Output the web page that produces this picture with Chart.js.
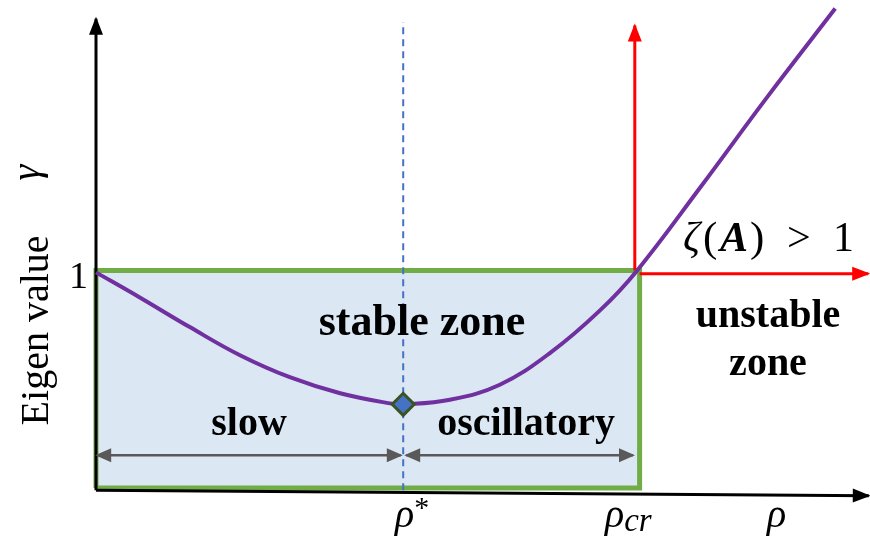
<!DOCTYPE html>
<html><head><meta charset="utf-8">
<script src="https://cdn.jsdelivr.net/npm/chart.js@4"></script>
<style>html,body{margin:0;padding:0;background:#fff}#wrap{width:870px;height:543px}</style>
</head><body><div id="wrap"><canvas id="c" width="870" height="543"></canvas></div>
<script>
// ---- data (ρ, γ in arbitrary units) ----
const rho   = [0, 0.73, 1.57, 2.4, 3.23, 4.07, 4.9, 5.12, 5.9, 6.73, 7.57, 8.4, 9.02, 10.07, 11.18, 12.32];
const gamma = [0.991, 0.877, 0.741, 0.614, 0.514, 0.441, 0.395, 0.391, 0.412, 0.48, 0.625, 0.818, 1.0, 1.377, 1.786, 2.191];
const rhoStar = 5.12, gammaMin = 0.391;
const rhoCr = 8.98;
const stableEdge = 9.06;
const gammaOne = 1;
const tickLabels = ['ρ', '*', 'ρ', 'cr', 'ρ'];
const zoneLabels = ['stable zone', 'slow', 'oscillatory', 'unstable', 'zone'];
const yAxisLabel = ['Eigen value', 'γ'];

const SERIF = '"Liberation Serif", "DejaVu Serif", serif';
const pts = (xs, ys) => xs.map((x, i) => ({x, y: ys[i]}));

const datasets = [
  {label:'fill', data:[{x:0,y:gammaOne},{x:stableEdge,y:gammaOne}], borderWidth:0, backgroundColor:'#dce7f4', fill:{value:0.01}, order:10},
  {label:'box', data:[{x:0,y:0.01},{x:stableEdge,y:0.01},{x:stableEdge,y:gammaOne},{x:0,y:gammaOne},{x:0,y:0.01}], borderColor:'#70ad47', borderWidth:5, borderJoinStyle:'miter', order:9},
  {label:'rhoStar', data:[{x:rhoStar,y:0},{x:rhoStar,y:2.13}], borderColor:'#4472c4', borderWidth:2, borderDash:[7,5], order:8},
  {label:'yAxis', data:[{x:0,y:0},{x:0,y:2.145}], borderColor:'#000', borderWidth:3, order:7, arrow:{end:true,len:16,w:7}},
  {label:'xAxis', data:[{x:0,y:0},{x:12.88,y:-0.025}], borderColor:'#000', borderWidth:3, order:7, arrow:{end:true,len:16,w:7}},
  {label:'slowArrow', data:[{x:0.02,y:0.159},{x:rhoStar-0.04,y:0.159}], borderColor:'#595959', borderWidth:2.5, order:6, arrow:{start:true,end:true,len:14,w:7}},
  {label:'oscArrow', data:[{x:rhoStar+0.05,y:0.159},{x:rhoCr-0.03,y:0.159}], borderColor:'#595959', borderWidth:2.5, order:6, arrow:{start:true,end:true,len:14,w:7}},
  {label:'redV', data:[{x:rhoCr,y:gammaOne},{x:rhoCr,y:2.114}], borderColor:'#ff0000', borderWidth:3, order:5, arrow:{end:true,len:16,w:7}},
  {label:'redH', data:[{x:stableEdge,y:0.985},{x:12.87,y:0.985}], borderColor:'#ff0000', borderWidth:3, order:5, arrow:{end:true,len:16,w:7}},
  {label:'gamma', data:pts(rho, gamma), borderColor:'#7030a0', borderWidth:4, tension:0.4, order:2},
  {label:'min', data:[{x:rhoStar,y:gammaMin}], showLine:false, pointStyle:'rectRot', pointRadius:11, backgroundColor:'#4472c4', borderColor:'#3b5323', borderWidth:3, order:0}
];
datasets.forEach(d => { if (d.showLine === undefined) d.showLine = true; if (d.pointRadius === undefined) d.pointRadius = 0; });

// text annotations placed in data units; runs: [text, font, dy, dx(optional absolute offset)]
const texts = [
  {t:[[yAxisLabel[1],'italic 40px '+SERIF]], x:-1.133, y:1.445, rot:true, align:'center', base:'middle'},
  {t:[[yAxisLabel[0],'40px '+SERIF]], x:-0.983, y:0.727, rot:true, align:'center', base:'middle'},
  {t:[['1','38px '+SERIF]], x:-0.133, y:0.918, align:'right'},
  {t:[[zoneLabels[0],'bold 44px '+SERIF]], x:5.433, y:0.705, align:'center'},
  {t:[[zoneLabels[1],'bold 40px '+SERIF]], x:2.55, y:0.25, align:'center'},
  {t:[[zoneLabels[2],'bold 40px '+SERIF]], x:7.167, y:0.25, align:'center'},
  {t:[[zoneLabels[3],'bold 40px '+SERIF]], x:11.2, y:0.741, align:'center'},
  {t:[[zoneLabels[4],'bold 40px '+SERIF]], x:11.2, y:0.523, align:'center'},
  {t:[['ζ','italic 42px '+SERIF,0,0],['(','43px '+SERIF,0,20],['A','bold italic 42px '+SERIF,0,37],[')','43px '+SERIF,0,67],['>','42px '+SERIF,0,104],['1','42px '+SERIF,0,150]], x:9.783, y:1.09, align:'left'},
  {t:[[tickLabels[0],'italic 40px '+SERIF],[tickLabels[1],'30px '+SERIF,-10]], x:4.983, y:-0.168, align:'left'},
  {t:[[tickLabels[2],'italic 40px '+SERIF],[tickLabels[3],'italic 33px '+SERIF,4]], x:8.483, y:-0.168, align:'left'},
  {t:[[tickLabels[4],'italic 40px '+SERIF]], x:11.183, y:-0.168, align:'left'}
];

const arrowPlugin = {
  id:'arrows',
  afterDatasetsDraw(chart){
    const ctx = chart.ctx;
    chart.data.datasets.forEach((d, i) => {
      if (!d.arrow) return;
      const el = chart.getDatasetMeta(i).data;
      const head = (a, b) => {
        const ang = Math.atan2(b.y - a.y, b.x - a.x);
        ctx.save(); ctx.translate(b.x, b.y); ctx.rotate(ang);
        ctx.beginPath(); ctx.moveTo(2, 0); ctx.lineTo(-d.arrow.len, -d.arrow.w); ctx.lineTo(-d.arrow.len, d.arrow.w); ctx.closePath();
        ctx.fillStyle = d.borderColor; ctx.fill(); ctx.restore();
      };
      const n = el.length;
      if (d.arrow.end) head(el[n-2], el[n-1]);
      if (d.arrow.start) head(el[1], el[0]);
    });
  }
};

const textPlugin = {
  id:'texts',
  afterDatasetsDraw(chart){
    const ctx = chart.ctx, xs = chart.scales.x, ys = chart.scales.y;
    texts.forEach(o => {
      const px = xs.getPixelForValue(o.x), py = ys.getPixelForValue(o.y);
      ctx.save(); ctx.fillStyle = '#000';
      ctx.translate(px, py);
      if (o.rot) ctx.rotate(-Math.PI/2);
      ctx.textBaseline = o.base || 'alphabetic';
      let total = 0;
      o.t.forEach(r => { ctx.font = r[1]; total += ctx.measureText(r[0]).width; });
      let cx = o.align === 'center' ? -total/2 : (o.align === 'right' ? -total : 0);
      ctx.textAlign = 'left';
      o.t.forEach(r => {
        ctx.font = r[1];
        const x0 = (r[3] !== undefined) ? r[3] : cx;
        ctx.fillText(r[0], x0, r[2] || 0);
        cx = x0 + ctx.measureText(r[0]).width;
      });
      ctx.restore();
    });
  }
};

new Chart(document.getElementById('c'), {
  type:'scatter',
  data:{datasets},
  options:{
    responsive:false, animation:false,
    layout:{padding:0, autoPadding:false},
    plugins:{legend:{display:false}, tooltip:{enabled:false}},
    scales:{
      x:{type:'linear', min:-1.6, max:12.9, display:false},
      y:{type:'linear', min:-0.24, max:2.23, display:false}
    },
    elements:{line:{tension:0}}
  },
  plugins:[arrowPlugin, textPlugin]
});
</script></body></html>
